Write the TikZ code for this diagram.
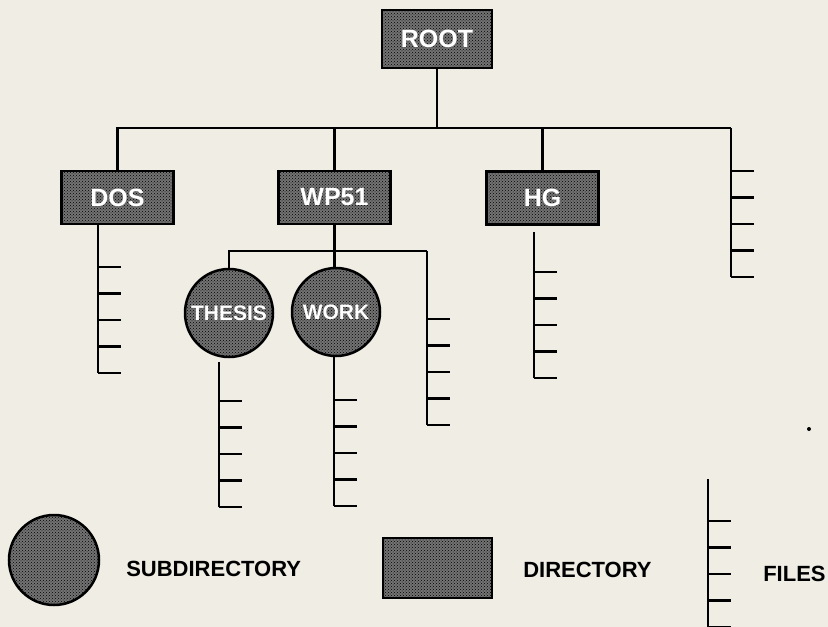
\documentclass[tikz,border=0pt]{standalone}
\usepackage{fontspec}
\setmainfont{Liberation Sans}
\usetikzlibrary{patterns}
\definecolor{paper}{RGB}{239,237,228}
% stem at x=#1 from y=#2, five file ticks from y=#3 down
\newcommand{\filelist}[3]{%
  \draw (#1,#2) -- (#1,#3+106);
  \foreach \k in {0,...,4}
    \draw (#1,#3+26.5*\k) -- ++(23,0);
}
\begin{document}
\begin{tikzpicture}[x=1pt, y=-1pt, line width=2.5pt,
  dir/.style={draw, fill=black!55, postaction={pattern=crosshatch dots, pattern color=black},
    minimum width=112pt, minimum height=53pt, inner sep=0pt, text=white,
    font=\fontsize{25}{28}\selectfont\bfseries},
  subdir/.style={draw, circle, fill=black!55, postaction={pattern=crosshatch dots, pattern color=black},
    minimum size=88pt, inner sep=0pt, text=white,
    font=\fontsize{21}{24}\selectfont\bfseries},
  legend/.style={anchor=west, inner sep=0pt, font=\fontsize{22}{25}\selectfont\bfseries}]
  % Paper
  \fill[paper] (0,0) rectangle (828,627);
  \useasboundingbox (0,0) rectangle (828,627);
  % Directories
  \node[dir, minimum width=110pt, minimum height=58pt] (root) at (437,39) {ROOT};
  \node[dir] (dos) at (117.5,197.5) {DOS};
  \node[dir] (wp51) at (334.5,197.5) {WP51};
  \node[dir] (hg) at (542.5,198) {HG};
  % Main bar
  \draw (dos.north) |- (731,128);
  \foreach \n in {root.south, wp51.north, hg.north}
    \draw (\n) -- (\n |- 0,128);
  \filelist{731}{128}{171}
  \filelist{98}{224}{267}
  \filelist{534}{232}{272}
  % Subdirectories of WP51
  \node[subdir] (thesis) at (229,313) {THESIS};
  \node[subdir] (work) at (336,312) {WORK};
  \draw (wp51.south) -- (wp51.south |- work.north);
  \draw (thesis.north) |- (427,251);
  \filelist{427}{251}{319}
  \filelist{219}{362}{401}
  \filelist{334}{357}{400}
  % Legend
  \node[subdir, minimum size=90pt] (sublegend) at (54,560) {};
  \node[legend] (sublabel) at (125,569) {SUBDIRECTORY};
  \node[dir, minimum width=109pt, minimum height=60pt] (dirlegend) at (437.5,568) {};
  \node[legend] (dirlabel) at (522,570) {DIRECTORY};
  \filelist{708}{479}{521}
  \node[legend] (filelabel) at (762,574) {FILES};
  \fill (809,429) circle (2);
\end{tikzpicture}
\end{document}
